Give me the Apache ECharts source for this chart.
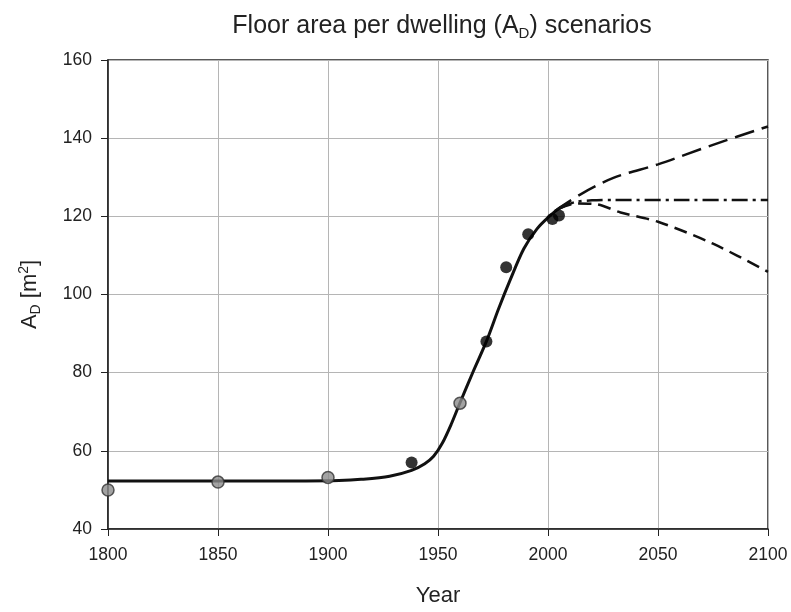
<!DOCTYPE html>
<html><head><meta charset="utf-8">
<script src="https://cdn.jsdelivr.net/npm/echarts@6/dist/echarts.min.js"></script>
<style>html,body{margin:0;padding:0;background:#fff}#c{width:791px;height:612px}</style>
</head><body><div id="c"></div>
<script>
// Fitted historical curve
const fitYears  = [1800, 1850, 1890, 1905, 1915, 1928, 1938, 1944, 1948, 1952, 1956, 1960, 1966, 1972, 1977.5, 1983, 1989, 1995, 2001, 2005, 2010];
const fitValues = [52.3, 52.3, 52.3, 52.4, 52.7, 53.5, 55.0, 56.7, 58.6, 62.0, 66.8, 72.3, 80.3, 88.0, 96.3, 104.0, 111.7, 116.8, 120.2, 122.0, 123.5];
// Scenarios
const highYears  = [2003, 2015, 2030, 2050, 2075, 2100];
const highValues = [121.3, 125.7, 129.9, 133.3, 138.3, 143.0];
const midYears   = [2005, 2012, 2020, 2030, 2060, 2100];
const midValues  = [122.0, 123.6, 124.1, 124.2, 124.2, 124.2];
const lowYears   = [2005, 2013, 2022, 2033, 2050, 2075, 2100];
const lowValues  = [122.0, 123.3, 123.1, 121.0, 118.6, 113.0, 105.8];
// Observations
const grayYears  = [1800, 1850, 1900, 1960];
const grayValues = [50, 52, 53.2, 72.2];
const blackYears  = [1938, 1972, 1981, 1991, 2002, 2005];
const blackValues = [57, 88.0, 107.0, 115.4, 119.3, 120.2];
// Axes
const xTicks = [1800, 2100, 50];
const yTicks = [40, 160, 20];

const zip = (a, b) => a.map((v, i) => [v, b[i]]);
const FONT = 'Liberation Sans, Arial, sans-serif';
const chart = echarts.init(document.getElementById('c'), null, {renderer: 'canvas'});
chart.setOption({
  animation: false,
  backgroundColor: '#fff',
  title: {
    text: 'Floor area per dwelling (A{sub|D}) scenarios',
    left: 437, top: 6, textAlign: 'center',
    textStyle: {
      fontFamily: FONT, fontSize: 25, fontWeight: 'normal', color: '#222', lineHeight: 30,
      rich: { sub: {fontFamily: FONT, fontSize: 15, color: '#222', verticalAlign: 'bottom', lineHeight: 15, padding: [9,0,0,0]} }
    }
  },
  grid: {left: 108, right: 23, top: 60, bottom: 80, show: true, borderColor: '#222', borderWidth: 1.5},
  xAxis: {
    type: 'value', min: xTicks[0], max: xTicks[1], interval: xTicks[2],
    name: 'Year', nameLocation: 'middle', nameGap: 56,
    nameTextStyle: {fontFamily: FONT, fontSize: 22, color: '#222'},
    axisLine: {show: true, lineStyle: {color: '#222', width: 1.5}},
    axisTick: {show: true, inside: false, length: 7, lineStyle: {color: '#222'}},
    axisLabel: {fontFamily: FONT, fontSize: 17.5, color: '#222', margin: 17, formatter: v => String(v)},
    splitLine: {show: true, lineStyle: {color: '#b5b5b5', width: 1}}
  },
  yAxis: {
    type: 'value', min: yTicks[0], max: yTicks[1], interval: yTicks[2],
    name: 'A{sub|D} [m{sup|2}]', nameLocation: 'middle', nameGap: 65, nameRotate: 90,
    nameTextStyle: {
      fontFamily: FONT, fontSize: 22, color: '#222', lineHeight: 26,
      rich: {
        sub: {fontFamily: FONT, fontSize: 14, color: '#222', verticalAlign: 'bottom', lineHeight: 14, padding: [9,0,0,0]},
        sup: {fontFamily: FONT, fontSize: 14, color: '#222', verticalAlign: 'top', lineHeight: 14}
      }
    },
    axisLine: {show: true, lineStyle: {color: '#222', width: 1.5}},
    axisTick: {show: true, inside: false, length: 7, lineStyle: {color: '#222'}},
    axisLabel: {fontFamily: FONT, fontSize: 17.5, color: '#222', margin: 16, formatter: v => String(v)},
    splitLine: {show: true, lineStyle: {color: '#b5b5b5', width: 1}}
  },
  series: [
    {type: 'line', data: zip(highYears, highValues), smooth: 0.3, showSymbol: false,
     lineStyle: {color: '#111', width: 2.5, type: [20, 8]}, z: 2},
    {type: 'line', data: zip(midYears, midValues), smooth: 0.3, showSymbol: false,
     lineStyle: {color: '#111', width: 2.5, type: [16, 5, 3, 5]}, z: 2},
    {type: 'line', data: zip(lowYears, lowValues), smooth: 0.3, showSymbol: false,
     lineStyle: {color: '#111', width: 2.5, type: [13, 7]}, z: 2},
    {type: 'line', data: zip(fitYears, fitValues), smooth: 0.3, showSymbol: false,
     lineStyle: {color: '#111', width: 3}, z: 3},
    {type: 'scatter', data: zip(grayYears, grayValues), symbol: 'circle', symbolSize: 12,
     itemStyle: {color: '#8c8c8c', borderColor: '#333', borderWidth: 1.5}, z: 4},
    {type: 'scatter', data: zip(blackYears, blackValues), symbol: 'circle', symbolSize: 12,
     itemStyle: {color: '#000'}, z: 4}
  ]
});
</script></body></html>
